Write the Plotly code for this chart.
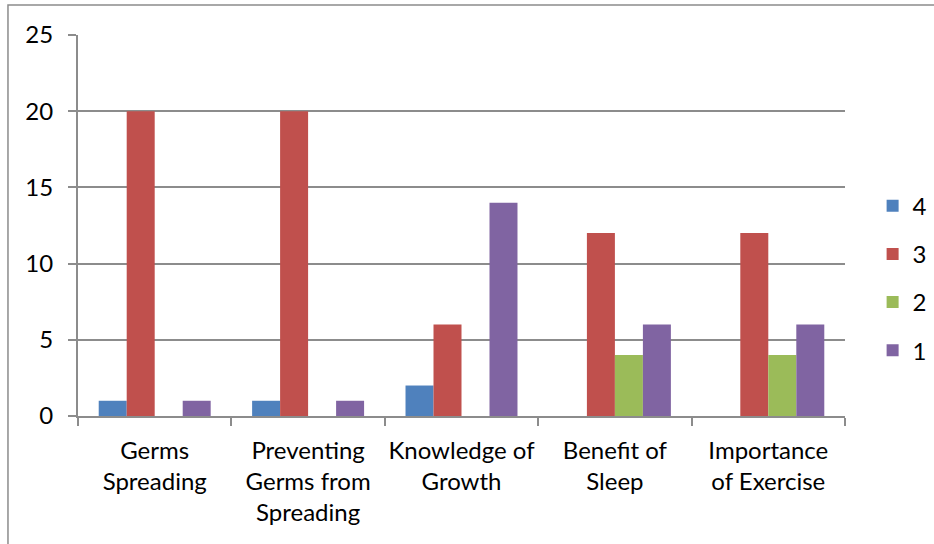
import plotly.graph_objects as go

# Survey topics and response counts per rating level
categories = [
    "Germs<br>Spreading",
    "Preventing<br>Germs from<br>Spreading",
    "Knowledge of<br>Growth",
    "Benefit of<br>Sleep",
    "Importance<br>of Exercise",
]
rating_4 = [1, 1, 2, 0, 0]
rating_3 = [20, 20, 6, 12, 12]
rating_2 = [0, 0, 0, 4, 4]
rating_1 = [1, 1, 14, 6, 6]

series = [
    ("4", rating_4, "#4F81BD"),
    ("3", rating_3, "#C0504D"),
    ("2", rating_2, "#9BBB59"),
    ("1", rating_1, "#8064A2"),
]

FONT = "Lato, Open Sans, sans-serif"
GRID = "#8c8c8c"

fig = go.Figure()
for name, vals, color in series:
    fig.add_trace(go.Bar(
        x=categories, y=vals, name=name,
        marker=dict(color=color, line=dict(width=0)),
        legendgroup=name,
    ))

fig.update_layout(
    width=934, height=544,
    margin=dict(l=78, r=89, t=35, b=128, autoexpand=False),
    paper_bgcolor="white", plot_bgcolor="white",
    barmode="group", bargap=0.27, bargroupgap=0,
    font=dict(family=FONT, size=24, color="black"),
    showlegend=True,
    legend=dict(
        x=1.036, xanchor="left", y=0.362, yanchor="middle",
        font=dict(size=24), traceorder="grouped", tracegroupgap=14,
        itemwidth=30, bgcolor="rgba(0,0,0,0)",
    ),
    xaxis=dict(
        showline=True, linecolor=GRID, linewidth=2,
        ticks="outside", tickson="boundaries", ticklen=8, tickcolor=GRID, tickwidth=2,
        showgrid=False, tickangle=0, ticklabelstandoff=12,
    ),
    yaxis=dict(
        range=[0, 25], dtick=5, showline=True, linecolor=GRID, linewidth=2,
        ticks="outside", ticklen=8, tickcolor=GRID, tickwidth=2,
        showgrid=True, gridcolor=GRID, gridwidth=2, zeroline=False,
        ticklabelstandoff=10,
    ),
    shapes=[dict(
        type="rect", xref="paper", yref="paper",
        x0=-0.0913, x1=1.2, y0=-0.5, y1=1.0787,
        line=dict(color=GRID, width=1.5), fillcolor="rgba(0,0,0,0)", layer="below",
    )],
)

fig.write_html("out.html")
